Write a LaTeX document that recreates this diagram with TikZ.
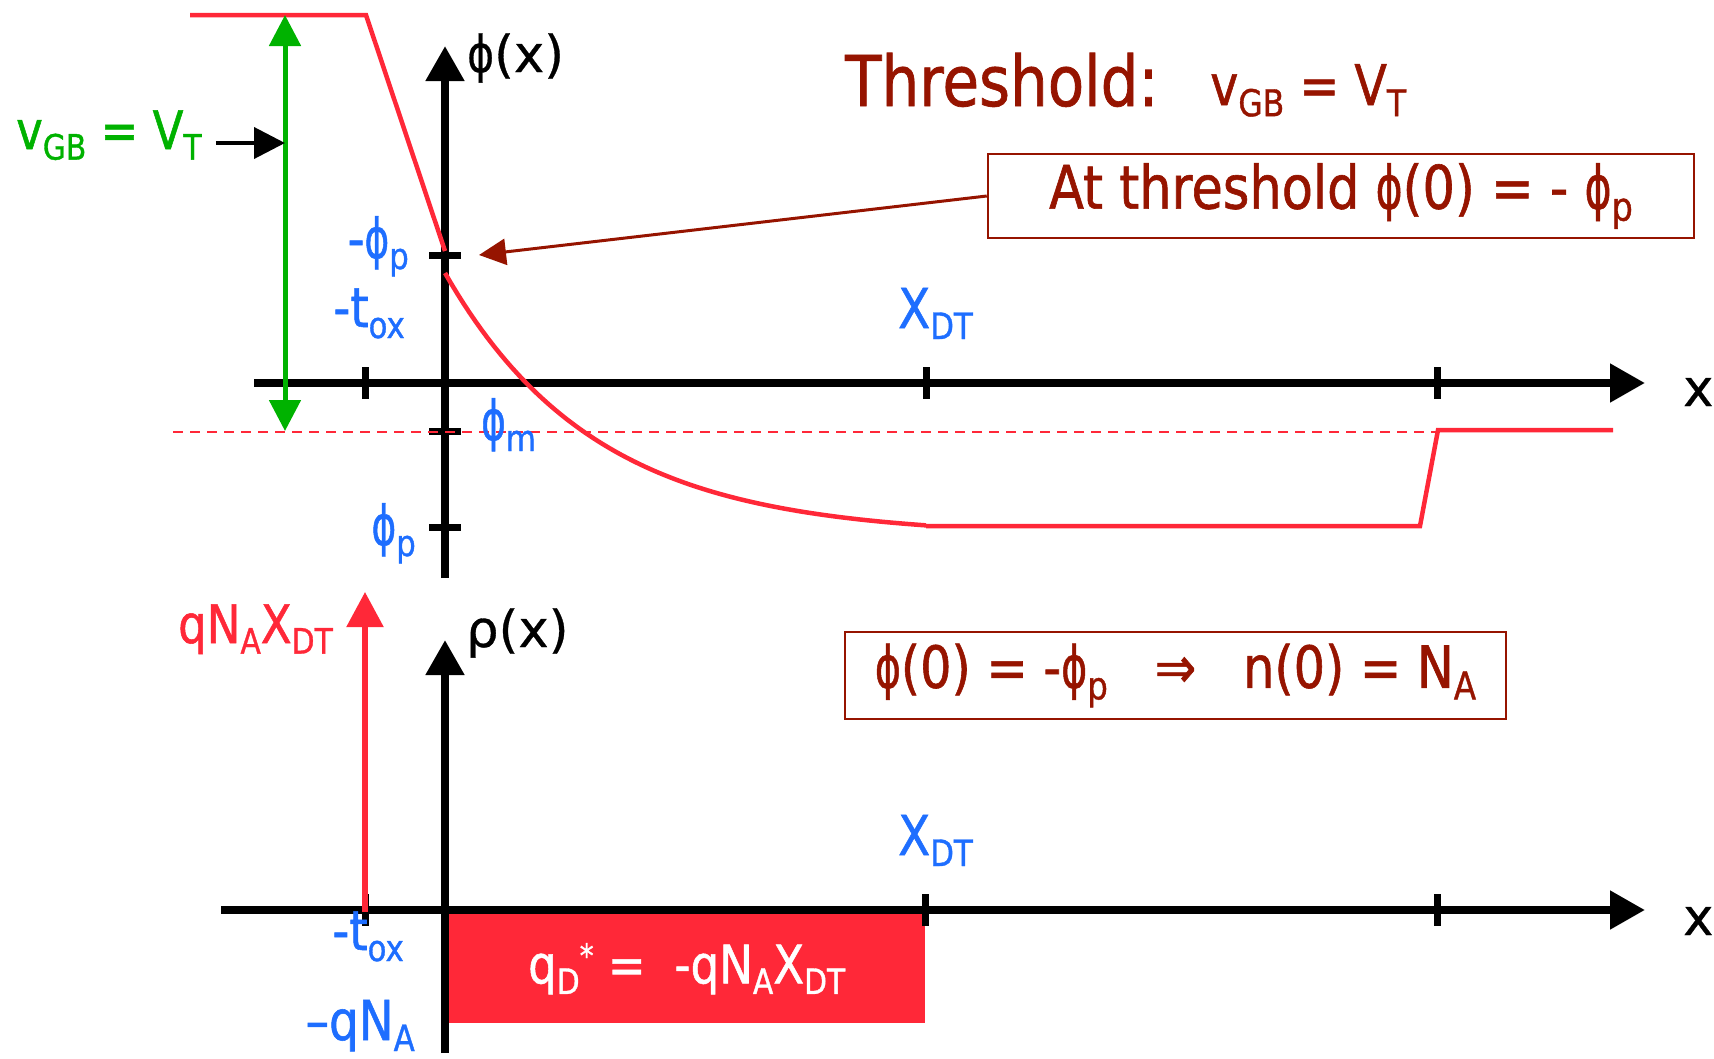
\documentclass[tikz,border=0pt]{standalone}
\usepackage{fontspec}
\setmainfont{DejaVu Sans}[FakeStretch=0.85, FakeBold=1]
\newfontfamily\widefnt{DejaVu Sans}[FakeBold=0.6]
\usepackage{tikz}
\usetikzlibrary{arrows.meta,positioning}
\definecolor{curvered}{RGB}{255,40,56}
\definecolor{darkbrick}{RGB}{150,20,0}
\definecolor{labelblue}{RGB}{30,110,255}
\definecolor{vgreen}{RGB}{0,178,0}
\newcommand{\ph}{\scalebox{0.8}[1]{ϕ}}
\newcommand{\subtx}[1]{\raisebox{-0.2em}{\scalebox{0.66}{#1}}}
\newcommand{\suptx}[1]{\raisebox{0.3em}{\scalebox{0.62}{#1}}}

\begin{document}
\begin{tikzpicture}[x=1pt, y=-1pt,
    lbl/.style={inner sep=0pt, font=\fontsize{#1}{#1}\selectfont},
    lbl/.default=56,
    blbl/.style={lbl=55, text=labelblue},
    axlbl/.style={inner sep=0pt, font=\widefnt\fontsize{51}{51}\selectfont},
    axis/.style={line width=8pt, -{Triangle[length=35pt,width=37pt]}},
    axtick/.style={line width=7pt},
    curve/.style={draw=curvered, line width=4.5pt},
    infobox/.style={draw=darkbrick, line width=2.5pt, text=darkbrick, inner sep=0pt, font=\fontsize{#1}{#1}\selectfont}]
    \useasboundingbox (0,0) rectangle (1714,1058);

    \coordinate (xl1) at (254,383);
    \coordinate (xr1) at (1645,383);
    \coordinate (yb1) at (445,578);
    \coordinate (yt1) at (445,46);
    \draw[axis] (xl1) -- (xr1);
    \draw[axis] (yb1) -- (yt1);
    \foreach \tx in {365,926,1437}
        \draw[axtick] (\tx,367) -- (\tx,399);
    \foreach \ty in {255,431,527}
        \draw[axtick] (429,\ty) -- (461,\ty);

    \draw[curvered, line width=2pt, dash pattern=on 10pt off 7pt] (173,432) -- (1438,432);
    \draw[curve] (190,15) -- (366,15) -- (445,251);
    \draw[curve] plot[domain=445:926, samples=80] (\x, {273+263*(1-exp(-(\x-445)/150))});
    \draw[curve] (926,526) -- (1420,526) -- (1438,430) -- (1613,430);

    \coordinate (vtop) at (285,15);
    \coordinate (vbot) at (285,431);
    \coordinate (vmid) at (285,143);
    \draw[vgreen, line width=5pt, {Triangle[length=31pt,width=31pt]}-{Triangle[length=31pt,width=31pt]}] (vtop) -- (vbot);
    \node[lbl=53, text=vgreen, anchor=base west] (vgb) at (16,149) {v\subtx{GB} = V\subtx{T}};
    \draw[line width=4pt, shorten <=14pt, -{Triangle[length=31pt,width=31pt]}] (vgb.east |- vmid) -- (vmid);

    \node[axlbl, anchor=base west] (phix) at (467,72) {\ph(x)};
    \node[axlbl, anchor=base west] (xlab1) at (1683,406) {x};
    \node[blbl, anchor=base east] (mphip) at (409,258) {-\ph\subtx{p}};
    \node[blbl, anchor=base east] (mtox1) at (405,327) {-t\subtx{ox}};
    \node[blbl, anchor=base west] (phim) at (481,440) {\ph\subtx{m}};
    \node[blbl, anchor=base east] (phip) at (416,545) {\ph\subtx{p}};
    \node[lbl=55, text=labelblue, anchor=base west] (xdt1) at (898,328) {X\subtx{DT}};

    \node[lbl=70, text=darkbrick, anchor=base west] (thr) at (845,106) {Threshold:};
    \node[lbl=56, text=darkbrick, anchor=base west] (thrv) at (1210,105) {v\subtx{GB} = V\subtx{T}};
    \node[infobox=60, minimum width=706pt, minimum height=84pt] (thbox) at (1341,196) {At threshold \ph(0) = - \ph\subtx{p}};
    \coordinate (mphiptip) at (479,255);
    \draw[darkbrick, line width=3pt, -{Triangle[length=27pt,width=26pt]}] (thbox.west) -- (mphiptip);

    \coordinate (xl2) at (221,910);
    \coordinate (xr2) at (1645,910);
    \coordinate (yb2) at (445,1053);
    \coordinate (yt2) at (445,640);
    \node[fill=curvered, minimum width=477pt, minimum height=109pt, inner sep=0pt, anchor=north west, text=white, font=\fontsize{53}{53}\selectfont] (qd) at (448,914) {q\subtx{D}\suptx{*} =\ \ -qN\subtx{A}X\subtx{DT}};
    \draw[axis] (xl2) -- (xr2);
    \draw[axis] (yb2) -- (yt2);
    \foreach \tx in {365,925,1437}
        \draw[axtick] (\tx,894) -- (\tx,926);
    \coordinate (qtop) at (365,592);
    \coordinate (qbot) at (365,912);
    \draw[curvered, line width=5.5pt, -{Triangle[length=35pt,width=36pt]}] (qbot) -- (qtop);

    \node[lbl=53, text=curvered, anchor=base west] (qnx) at (178,643) {qN\subtx{A}X\subtx{DT}};
    \node[axlbl, anchor=base west] (rhox) at (466,647) {ρ(x)};
    \node[axlbl, anchor=base west] (xlab2) at (1683,935) {x};
    \node[lbl=55, text=labelblue, anchor=base west] (xdt2) at (898,855) {X\subtx{DT}};
    \node[blbl, anchor=base east] (mtox2) at (404,950) {-t\subtx{ox}};
    \node[blbl, anchor=base east] (mqna) at (415,1040) {–qN\subtx{A}};
    \node[infobox=58, minimum width=661pt, minimum height=87pt] (nbox) at (1175.5,675.5) {\ph(0) = -\ph\subtx{p}\ \ \ ⇒\ \ \ n(0) = N\subtx{A}};
\end{tikzpicture}
\end{document}
